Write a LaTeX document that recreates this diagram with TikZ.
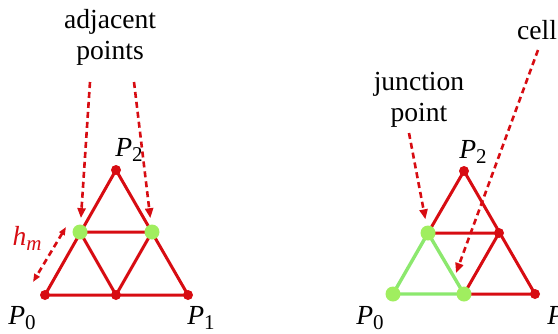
\documentclass[tikz,border=0pt]{standalone}
\usepackage{fontspec}
\setmainfont{Liberation Serif}
\usepackage{xcolor}
\usetikzlibrary{arrows.meta,positioning,calc,backgrounds}

\definecolor{meshred}{RGB}{215,12,18}
\definecolor{dotgreen}{RGB}{160,238,95}
\definecolor{cellgreen}{RGB}{140,232,110}

% P_i style labels
\newcommand{\plbl}[2]{\textit{#1}\raisebox{-0.4ex}{\fontsize{10.5}{10.5}\selectfont #2}}

\begin{document}
\begin{tikzpicture}[
  x=0.5pt, y=-0.5pt,
  font=\fontsize{13.8}{15.5}\selectfont,
  edge/.style={meshred, line width=1.5pt},
  celledge/.style={cellgreen, line width=1.7pt},
  reddot/.style={circle, fill=meshred, inner sep=0pt, minimum size=5pt},
  greendot/.style={circle, fill=dotgreen, inner sep=0pt, minimum size=7.5pt},
  pointer/.style={-{Triangle[length=5pt,width=4pt]}, dash pattern=on 3pt off 2pt, meshred, line width=1.3pt},
  dimline/.style={{Triangle[length=4pt,width=3pt]}-{Triangle[length=4pt,width=3pt]}, dash pattern=on 3pt off 2pt, meshred, line width=1.3pt},
  callout/.style={align=center, inner sep=0pt}
]
\clip (0,0) rectangle (558,333);

% left: refined triangle
\node[reddot] (L0) at (45,295) {};
\node[reddot] (L1) at (188,295) {};
\node[reddot] (L2) at (116,170) {};
\node[reddot] (L01) at (116,295) {};
\node[greendot] (L02) at (80,232) {};
\node[greendot] (L12) at (152,232) {};

\begin{scope}[on background layer]
\draw[edge] (L0.center) -- (L1.center) -- (L2.center) -- cycle;
\draw[edge] (L02.center) -- (L12.center) -- (L01.center) -- cycle;
\end{scope}

\node (lP0) at (22,318) {\plbl{P}{0}};
\node (lP1) at (201,318) {\plbl{P}{1}};
\node (lP2) at (129,150) {\plbl{P}{2}};

\node[callout] (adj) at (110,37) {adjacent\\points};
\coordinate (adjA) at (90,82);
\coordinate (adjB) at (134,82);
\draw[pointer, shorten >=3pt] (adjA) -- (L02);
\draw[pointer, shorten >=3pt] (adjB) -- (L12);

\node[text=meshred] (hm) at (27,238) {\plbl{h}{\itshape m}};
\coordinate (hmA) at (66,227);
\coordinate (hmB) at (33,282);
\draw[dimline] (hmA) -- (hmB);

% right: one cell picked out
\node[greendot] (R0) at (393,294) {};
\node[reddot] (R1) at (535,294) {};
\node[reddot] (R2) at (464,171) {};
\node[reddot] (R12) at (499,233) {};
\node[greendot] (R02) at (428,233) {};
\node[greendot] (R01) at (464,294) {};

\begin{scope}[on background layer]
\draw[edge] (R01.center) -- (R1.center) -- (R2.center) -- (R02.center) -- (R12.center) -- (R01.center);
\draw[celledge] (R0.center) -- (R02.center) -- (R01.center) -- cycle;
\end{scope}

\node (rP0) at (370,318) {\plbl{P}{0}};
\node (rP1) at (561,318) {\plbl{P}{1}};
\node (rP2) at (473,152) {\plbl{P}{2}};

\node[callout] (junc) at (419,100) {junction\\point};
\coordinate (juncA) at (409,133);
\draw[pointer, shorten >=3pt] (juncA) -- (R02);

\node[callout] (cell) at (537,30) {cell};
\coordinate (cellA) at (538,50);
\coordinate (cellB) at (456,273);
\draw[pointer] (cellA) -- (cellB);

\end{tikzpicture}
\end{document}
